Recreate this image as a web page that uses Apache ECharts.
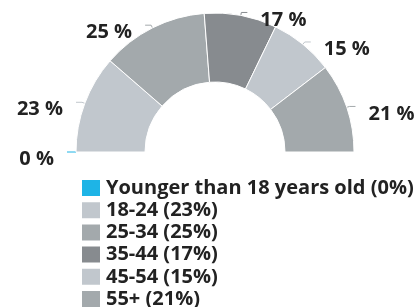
<!DOCTYPE html>
<html>
<head>
<meta charset="utf-8">
<script src="https://cdn.jsdelivr.net/npm/echarts@6/dist/echarts.min.js"></script>
<style>
    html, body { margin: 0; padding: 0; background: #fff; }
    #chart { width: 415px; height: 307px; }
</style>
</head>
<body>
<div id="chart"></div>
<script>
var categories = [
    "Younger than 18 years old",
    "18-24",
    "25-34",
    "35-44",
    "45-54",
    "55+"
];
var values = [0, 23, 25, 17, 15, 21];
var colors = ["#1eb4e6", "#c1c7cd", "#a3a9ac", "#878b8f", "#c1c7cd", "#a3a9ac"];

var myChart = echarts.init(document.getElementById("chart"));

var pieData = categories.map(function (name, i) {
    return { name: name, value: values[i], itemStyle: { color: colors[i] } };
});

var option = {
    backgroundColor: "#fff",
    textStyle: { fontFamily: "Open Sans" },
    legend: {
        orient: "vertical",
        left: 80,
        top: 178,
        height: 140,
        padding: 0,
        itemWidth: 20,
        itemHeight: 18,
        itemGap: 2.2,
        icon: "rect",
        textStyle: {
            color: "#222",
            fontSize: 20,
            lineHeight: 18,
            fontWeight: "bold",
            fontFamily: "Open Sans"
        },
        formatter: function (name) {
            var i = categories.indexOf(name);
            return name + " (" + values[i] + "%)";
        },
        data: categories
    },
    series: [
        {
            type: "pie",
            center: [215, 152],
            radius: [70, 139],
            startAngle: 180,
            endAngle: 0,
            clockwise: true,
            avoidLabelOverlap: false,
            minShowLabelAngle: 0,
            itemStyle: { borderColor: "#fff", borderWidth: 1 },
            label: {
                show: true,
                formatter: "\n{c} %",
                color: "#222",
                fontSize: 20,
                lineHeight: 15,
                fontWeight: "bold",
                fontFamily: "Open Sans",
                distanceToLabelLine: 13
            },
            labelLine: {
                show: true,
                length: 3,
                length2: 6,
                lineStyle: { width: 1 }
            },
            emphasis: { scale: false },
            data: pieData
        }
    ]
};
myChart.setOption(option);
</script>
</body>
</html>
